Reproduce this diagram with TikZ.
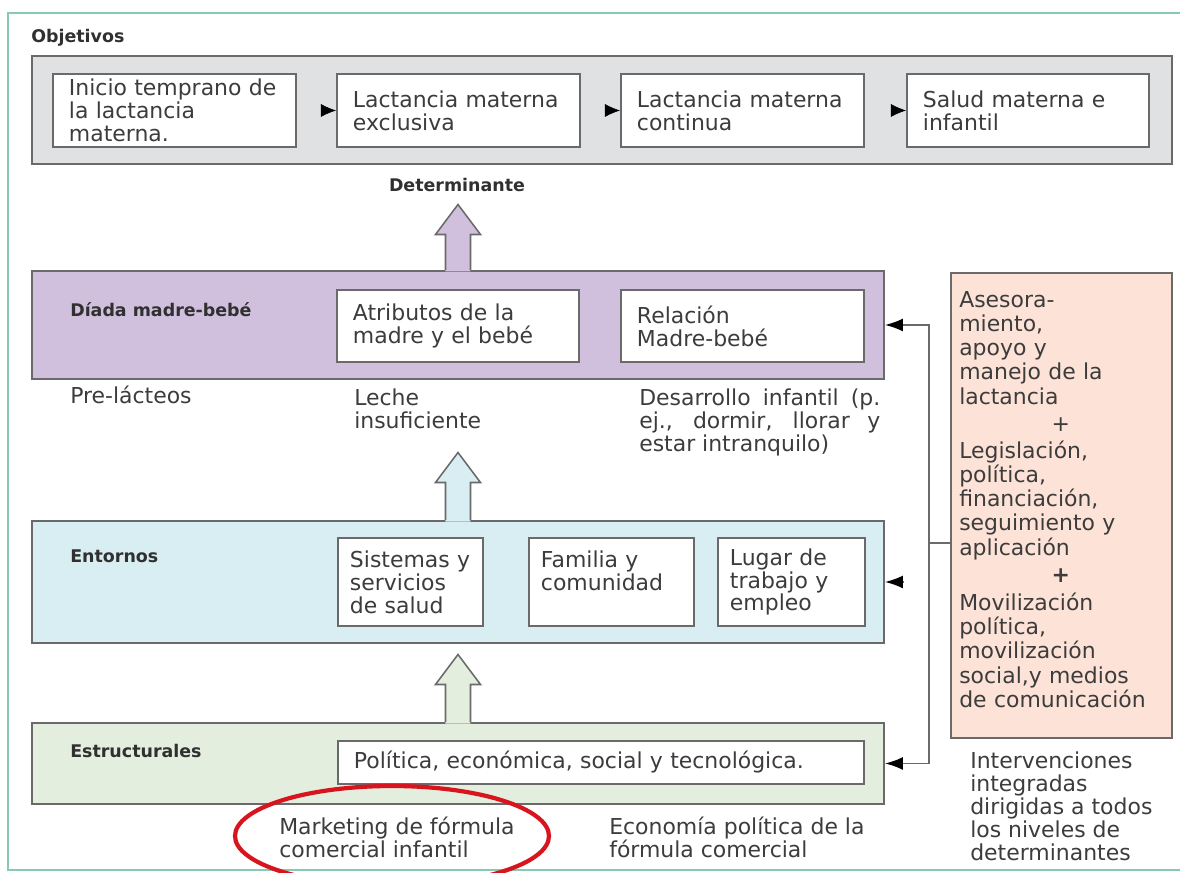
\documentclass[tikz,border=0pt]{standalone}
\usepackage{fontspec}
\setmainfont{DejaVu Sans}
\usetikzlibrary{arrows.meta,calc,positioning}

\newlength\px \setlength\px{0.025cm}
\newcommand\mainsize{\fontsize{15.6pt}{16.3pt}\selectfont}
\newcommand\aidsize{\fontsize{15.6pt}{17.2pt}\selectfont}
\newcommand\tagsize{\fontsize{12.4pt}{14pt}\selectfont}

\definecolor{framegreen}{HTML}{86C9B4}
\definecolor{edgegray}{HTML}{6A6A6A}
\definecolor{inkgray}{HTML}{3C3C3C}
\definecolor{goalfill}{HTML}{DFE1E2}
\definecolor{dyadfill}{HTML}{D0C0DE}
\definecolor{envfill}{HTML}{D9EEF3}
\definecolor{structfill}{HTML}{E4EEDF}
\definecolor{aidfill}{HTML}{FDE3D7}
\definecolor{ringred}{HTML}{D8141E}

\tikzset{
  layer/.style    = {draw=edgegray, line width=1.4pt, anchor=north west,
                     inner sep=0pt},
  item/.style 2 args = {draw=edgegray, line width=1.4pt, fill=white,
                     anchor=north west, align=left, inner xsep=16\px,
                     inner ysep=0pt, text width=#1\px, minimum height=#2\px,
                     font=\mainsize, text=inkgray},
  tag/.style      = {font=\bfseries\tagsize, text=inkgray!80!black,
                     anchor=base west, inner sep=0pt},
  note/.style     = {font=\mainsize, text=inkgray, anchor=north west,
                     align=left, inner sep=0pt},
  feed/.style     = {draw=edgegray, line width=1.1pt,
                     -{Latex[length=12.8pt, width=9.2pt, color=black]}},
  stepflow/.style = {draw=black, -{Latex[length=10.7pt, width=9.2pt]}},
  bus/.style      = {draw=edgegray, line width=1.1pt},
  block/.style    = {draw=edgegray, line width=1.1pt},
  ring/.style     = {draw=ringred, line width=3pt}
}

\begin{document}
\begin{tikzpicture}[x=0.025cm, y=-0.025cm]
\useasboundingbox (0,0) rectangle (1180,873);
\draw[framegreen, line width=2pt] (8,13) rectangle (1200,870);

\node[layer, fill=goalfill, minimum width=1140\px, minimum height=108\px] (goals) at (31,55) {};
\node[tag] (goalstag) at (31,43) {Objetivos};
\node[item={211}{73}] (o1) at (52,73) {Inicio temprano de\\la lactancia\\materna.};
\node[item={211}{73}] (o2) at (336,73) {Lactancia materna\\exclusiva};
\node[item={211}{73}] (o3) at (620,73) {Lactancia materna\\continua};
\node[item={210}{73}] (o4) at (906,73) {Salud materna e\\infantil};
\foreach \b in {o2,o3,o4}
  \draw[stepflow] ($(\b.west)+(-15,0)$) -- (\b.west);

\node[tag, anchor=base] (det) at (457,192) {Determinante};

\node[layer, fill=dyadfill, minimum width=852\px, minimum height=108\px] (dyad) at (31,270) {};
\node[tag] (dyadtag) at (70,317) {Díada madre-bebé};
\node[item={210}{72}] (attr) at (336,289) {Atributos de la\\madre y el bebé};
\node[item={211}{72}] (rel) at (620,289) {Relación\\Madre-bebé};

\node[note] (prelac) at (70,386) {Pre-lácteos};
\node[note] (leche) at (354,389) {Leche\\insuficiente};
\node[note, text width=241\px, align=justify] (devel) at (639,389)
  {Desarrollo infantil (p.\linebreak ej., dormir, llorar y\linebreak estar intranquilo)};

\node[layer, fill=envfill, minimum width=852\px, minimum height=122\px] (env) at (31,520) {};
\node[tag] (envtag) at (70,562) {Entornos};
\node[item={121}{88}, inner xsep=12\px] (sist) at (337,537) {Sistemas y\\servicios\\de salud};
\node[item={141}{88}, inner xsep=12\px] (fam) at (528,537) {Familia y\\comunidad\\\mbox{}};
\node[item={123}{88}, inner xsep=12\px] (lug) at (717,537) {Lugar de\\trabajo y\\empleo};

\node[layer, fill=structfill, minimum width=852\px, minimum height=81\px] (struct) at (31,722) {};
\node[tag] (structtag) at (70,757) {Estructurales};
\node[item={494}{43}] (pol) at (337,740) {Política, económica, social y tecnológica.};

\foreach \lay/\len/\col in {dyad/65/dyadfill, env/67/envfill, struct/67/structfill}{
  \fill[\col] ($(\lay.north)+(-12.5,1.5)$) -- ++(0,{29.5-\len-1}) -- ++(-10,0)
    -- ++(22.5,-30) -- ++(22.5,30) -- ++(-10,0) -- ++(0,{\len-29.5+1}) -- cycle;
  \draw[block] ($(\lay.north)+(-12.5,0)$) -- ++(0,{29.5-\len}) -- ++(-10,0)
    -- ++(22.5,-30) -- ++(22.5,30) -- ++(-10,0) -- ++(0,{\len-29.5});
}

\node[layer, fill=aidfill, minimum width=221\px, minimum height=465\px] (aid) at (950,272) {};
\node[note, font=\aidsize, text width=203\px] (aidtext) at (959,291)
  {Asesora-\\miento,\\apoyo y\\manejo de la\\lactancia\\[3\px]
   \makebox[203\px]{+}\\[3\px]
   Legislación,\\política,\\financiación,\\seguimiento y\\aplicación\\[3\px]
   \makebox[203\px]{\bfseries +}\\[4\px]
   Movilización\\política,\\movilización\\social,y medios\\de comunicación};
\node[note] (intv) at (970,752) {Intervenciones\\integradas\\dirigidas a todos\\los niveles de\\determinantes};

\coordinate (jn) at (929,543);
\draw[bus] (jn) -- (jn -| aid.west);
\draw[feed] (jn) |- (dyad.east);
\draw[feed] (jn) |- (struct.east);
\draw[feed] ($(env.east)+(19,0)$) -- (env.east);

\node[note] (mkt) at (279,817) {Marketing de fórmula\\comercial infantil};
\node[note] (econ) at (609,817) {Economía política de la\\fórmula comercial};
\draw[ring] (392,836) ellipse [x radius=157, y radius=50];
\end{tikzpicture}
\end{document}
